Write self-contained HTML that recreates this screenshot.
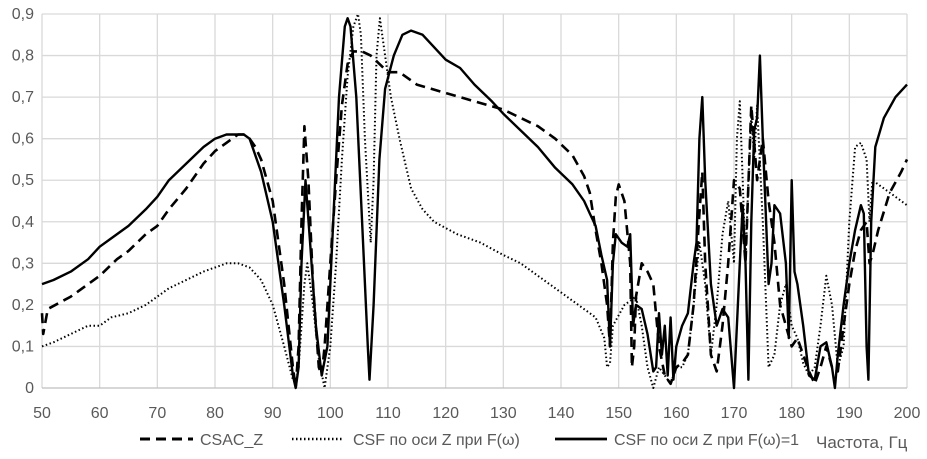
<!DOCTYPE html>
<html><head><meta charset="utf-8"><style>
body{margin:0;background:#fff;width:927px;height:454px;overflow:hidden;font-family:"Liberation Sans","DejaVu Sans",sans-serif}
svg text{font-family:"Liberation Sans","DejaVu Sans",sans-serif;fill:#595959}
</style></head><body>
<svg id="chart" width="927" height="454" viewBox="0 0 927 454">
<g id="grid"></g>
<g id="series"></g>
<g id="axes"></g>
<g id="legend"></g>
</svg>
<script>
const xTicks=[50,60,70,80,90,100,110,120,130,140,150,160,170,180,190,200];
const yTicks=[0,0.1,0.2,0.3,0.4,0.5,0.6,0.7,0.8,0.9];
const yTickLabels=["0","0,1","0,2","0,3","0,4","0,5","0,6","0,7","0,8","0,9"];
const seriesNames=["CSAC_Z","CSF по оси Z при F(ω)","CSF по оси Z при F(ω)=1"];
const csacZ=[[50,0.18],[50.2,0.13],[51,0.19],[55,0.22],[58,0.25],[60,0.27],[63,0.31],[65,0.33],[68,0.37],[70,0.39],[72,0.43],[75,0.48],[78,0.54],[80,0.57],[82,0.59],[84,0.61],[85,0.61],[86,0.6],[87,0.58],[88,0.55],[90,0.45],[92,0.25],[93.5,0.05],[94,0],[94.5,0.1],[95,0.4],[95.5,0.63],[96.2,0.5],[97,0.25],[98,0.05],[98.5,0.03],[99,0.1],[100,0.3],[101,0.5],[102,0.68],[103,0.78],[104,0.81],[105.5,0.81],[107,0.8],[108.5,0.78],[110,0.76],[112,0.76],[115,0.73],[120,0.71],[125,0.69],[130,0.67],[133,0.65],[136,0.63],[139,0.6],[142,0.56],[144,0.51],[145,0.47],[146,0.38],[147,0.3],[148,0.2],[148.5,0.1],[149,0.35],[149.5,0.46],[150,0.49],[151,0.45],[152,0.3],[152.3,0.05],[152.7,0.1],[153,0.22],[154,0.3],[155,0.28],[156,0.25],[157,0.1],[158,0.03],[159,0.01],[160,0.05],[161,0.06],[162,0.08],[163,0.2],[164,0.42],[164.5,0.52],[165,0.3],[166,0.08],[167,0.04],[168,0.15],[169,0.3],[170,0.5],[171,0.48],[172,0.3],[173,0.68],[174,0.5],[175,0.6],[176,0.45],[177,0.35],[178,0.2],[179,0.15],[180,0.1],[181,0.12],[182,0.08],[183,0.04],[184,0.01],[185,0.05],[186,0.1],[187,0.05],[188,0.04],[189,0.15],[190,0.25],[191,0.33],[192,0.38],[193,0.4],[193.5,0.3],[194,0.32],[195,0.38],[197,0.47],[199,0.52],[200,0.55]];
const csfF=[[50,0.1],[52,0.11],[55,0.13],[58,0.15],[60,0.15],[62,0.17],[65,0.18],[68,0.2],[70,0.22],[72,0.24],[75,0.26],[78,0.28],[80,0.29],[82,0.3],[84,0.3],[86,0.29],[88,0.26],[90,0.2],[92,0.1],[93.5,0.02],[94,0.01],[94.5,0.05],[95.5,0.25],[96,0.3],[97,0.2],[98,0.07],[99,0],[100,0.1],[101,0.3],[102,0.55],[103,0.75],[104,0.87],[104.8,0.9],[105.3,0.85],[106,0.6],[107,0.35],[107.5,0.5],[108,0.8],[108.6,0.89],[109.5,0.8],[110.5,0.7],[112,0.6],[114,0.48],[116,0.43],[118,0.4],[122,0.37],[126,0.35],[130,0.32],[133,0.3],[136,0.27],[140,0.23],[143,0.2],[146,0.17],[147.5,0.12],[148,0.05],[148.5,0.06],[149,0.15],[151,0.2],[153,0.22],[154,0.15],[155,0.05],[156,0],[157,0.05],[158,0.03],[159,0.01],[160,0.05],[161,0.05],[162,0.08],[163,0.2],[164,0.35],[165,0.25],[166,0.08],[167,0.2],[168,0.37],[169,0.45],[170,0.3],[170.5,0.6],[171,0.69],[171.5,0.5],[172,0.3],[172.5,0.5],[173,0.66],[173.5,0.55],[174,0.68],[175,0.4],[176,0.05],[177,0.08],[178,0.2],[179,0.25],[180,0.15],[181,0.12],[182,0.06],[183,0.03],[184,0.05],[185,0.15],[186,0.27],[187,0.2],[188,0.05],[189,0.1],[190,0.4],[191,0.58],[192,0.59],[193,0.55],[193.5,0.4],[194,0.5],[196,0.48],[198,0.46],[200,0.44]];
const csfF1=[[50,0.25],[52,0.26],[55,0.28],[58,0.31],[60,0.34],[62,0.36],[65,0.39],[68,0.43],[70,0.46],[72,0.5],[75,0.54],[78,0.58],[80,0.6],[82,0.61],[84,0.61],[85,0.61],[86,0.6],[88,0.52],[90,0.4],[92,0.2],[93.5,0.03],[94,0],[94.5,0.05],[95,0.3],[95.7,0.5],[96.5,0.35],[97.5,0.15],[98.5,0.03],[99.5,0.1],[100.5,0.4],[101.5,0.7],[102.5,0.87],[103,0.89],[103.5,0.87],[104.5,0.7],[105.5,0.4],[106.5,0.1],[106.8,0.02],[107.5,0.2],[108.5,0.55],[109.5,0.72],[111,0.8],[112.5,0.85],[114,0.86],[116,0.85],[118,0.82],[120,0.79],[122.5,0.77],[125,0.73],[128,0.69],[130,0.66],[133,0.62],[136,0.58],[139,0.53],[142,0.49],[144,0.45],[145,0.42],[146,0.39],[147,0.32],[148,0.26],[148.5,0.1],[149,0.3],[149.5,0.37],[150.5,0.35],[151.5,0.34],[152,0.37],[152.5,0.15],[153,0.2],[154,0.19],[155,0.13],[156,0.04],[156.5,0.05],[157,0.18],[157.5,0.08],[158,0.15],[158.5,0.03],[159,0.17],[159.5,0.02],[160,0.1],[161,0.15],[162,0.18],[163,0.3],[163.5,0.35],[164,0.6],[164.5,0.7],[165,0.5],[166,0.25],[167,0.15],[168,0.19],[169,0.17],[170,0],[171,0.3],[171.5,0.44],[172,0.3],[172.5,0.02],[173,0.4],[173.5,0.62],[174,0.65],[174.5,0.8],[175,0.6],[176,0.25],[176.5,0.3],[177,0.44],[178,0.42],[179,0.3],[179.5,0.12],[180,0.5],[180.5,0.28],[181,0.25],[182,0.15],[183,0.03],[184,0.02],[185,0.1],[186,0.11],[187,0.05],[187.5,0],[188,0.08],[189,0.2],[190,0.3],[191,0.38],[192,0.44],[192.5,0.42],[193,0.1],[193.3,0.02],[193.8,0.4],[194.5,0.58],[196,0.65],[198,0.7],[200,0.73]];

const X0=42,X1=907,Y0=388,Y1=14;
const xs=v=>X0+(v-50)/150*(X1-X0);
const ys=v=>Y0-v/0.9*(Y0-Y1);
const NS="http://www.w3.org/2000/svg";
function mk(tag,attrs,parent){const e=document.createElementNS(NS,tag);for(const k in attrs)e.setAttribute(k,attrs[k]);parent.appendChild(e);return e;}
const grid=document.getElementById('grid'),axes=document.getElementById('axes'),ser=document.getElementById('series'),leg=document.getElementById('legend');
xTicks.forEach(t=>{const l=mk('line',{x1:xs(t),x2:xs(t),y1:Y1,y2:Y0,stroke:'#d9d9d9','stroke-width':1.3},grid);

const tx=mk('text',{x:xs(t),y:418,'text-anchor':'middle','font-size':16},axes);tx.textContent=t;
});
yTicks.forEach((t,i)=>{const l=mk('line',{x1:X0,x2:X1,y1:ys(t),y2:ys(t),stroke:t===0?'#bfbfbf':'#d9d9d9','stroke-width':1.3},grid);

const tx=mk('text',{x:34,y:ys(t)+5,'text-anchor':'end','font-size':16},axes);tx.textContent=yTickLabels[i];
});
const styles=[{d:'10,6',w:2.6},{d:'1.5,2.5',w:2},{d:'',w:2.4}];
[csacZ,csfF,csfF1].forEach((s,i)=>{const p=mk('polyline',{points:s.map(q=>xs(q[0]).toFixed(1)+','+ys(q[1]).toFixed(1)).join(' '),fill:'none',stroke:'#000','stroke-width':styles[i].w,'stroke-dasharray':styles[i].d,'stroke-linejoin':'round'},ser);
});
const lx=[[140,193,200],[292,342,353],[555,607,614]];
lx.forEach((a,i)=>{const l=mk('line',{x1:a[0],x2:a[1],y1:439,y2:439,stroke:'#000','stroke-width':styles[i].w+0.4,'stroke-dasharray':styles[i].d},leg);

const t=mk('text',{x:a[2],y:445,'font-size':16},leg);t.textContent=seriesNames[i];
});
const at=mk('text',{x:816,y:448,'font-size':17},axes);at.textContent='Частота, Гц';

</script>
</body></html>
